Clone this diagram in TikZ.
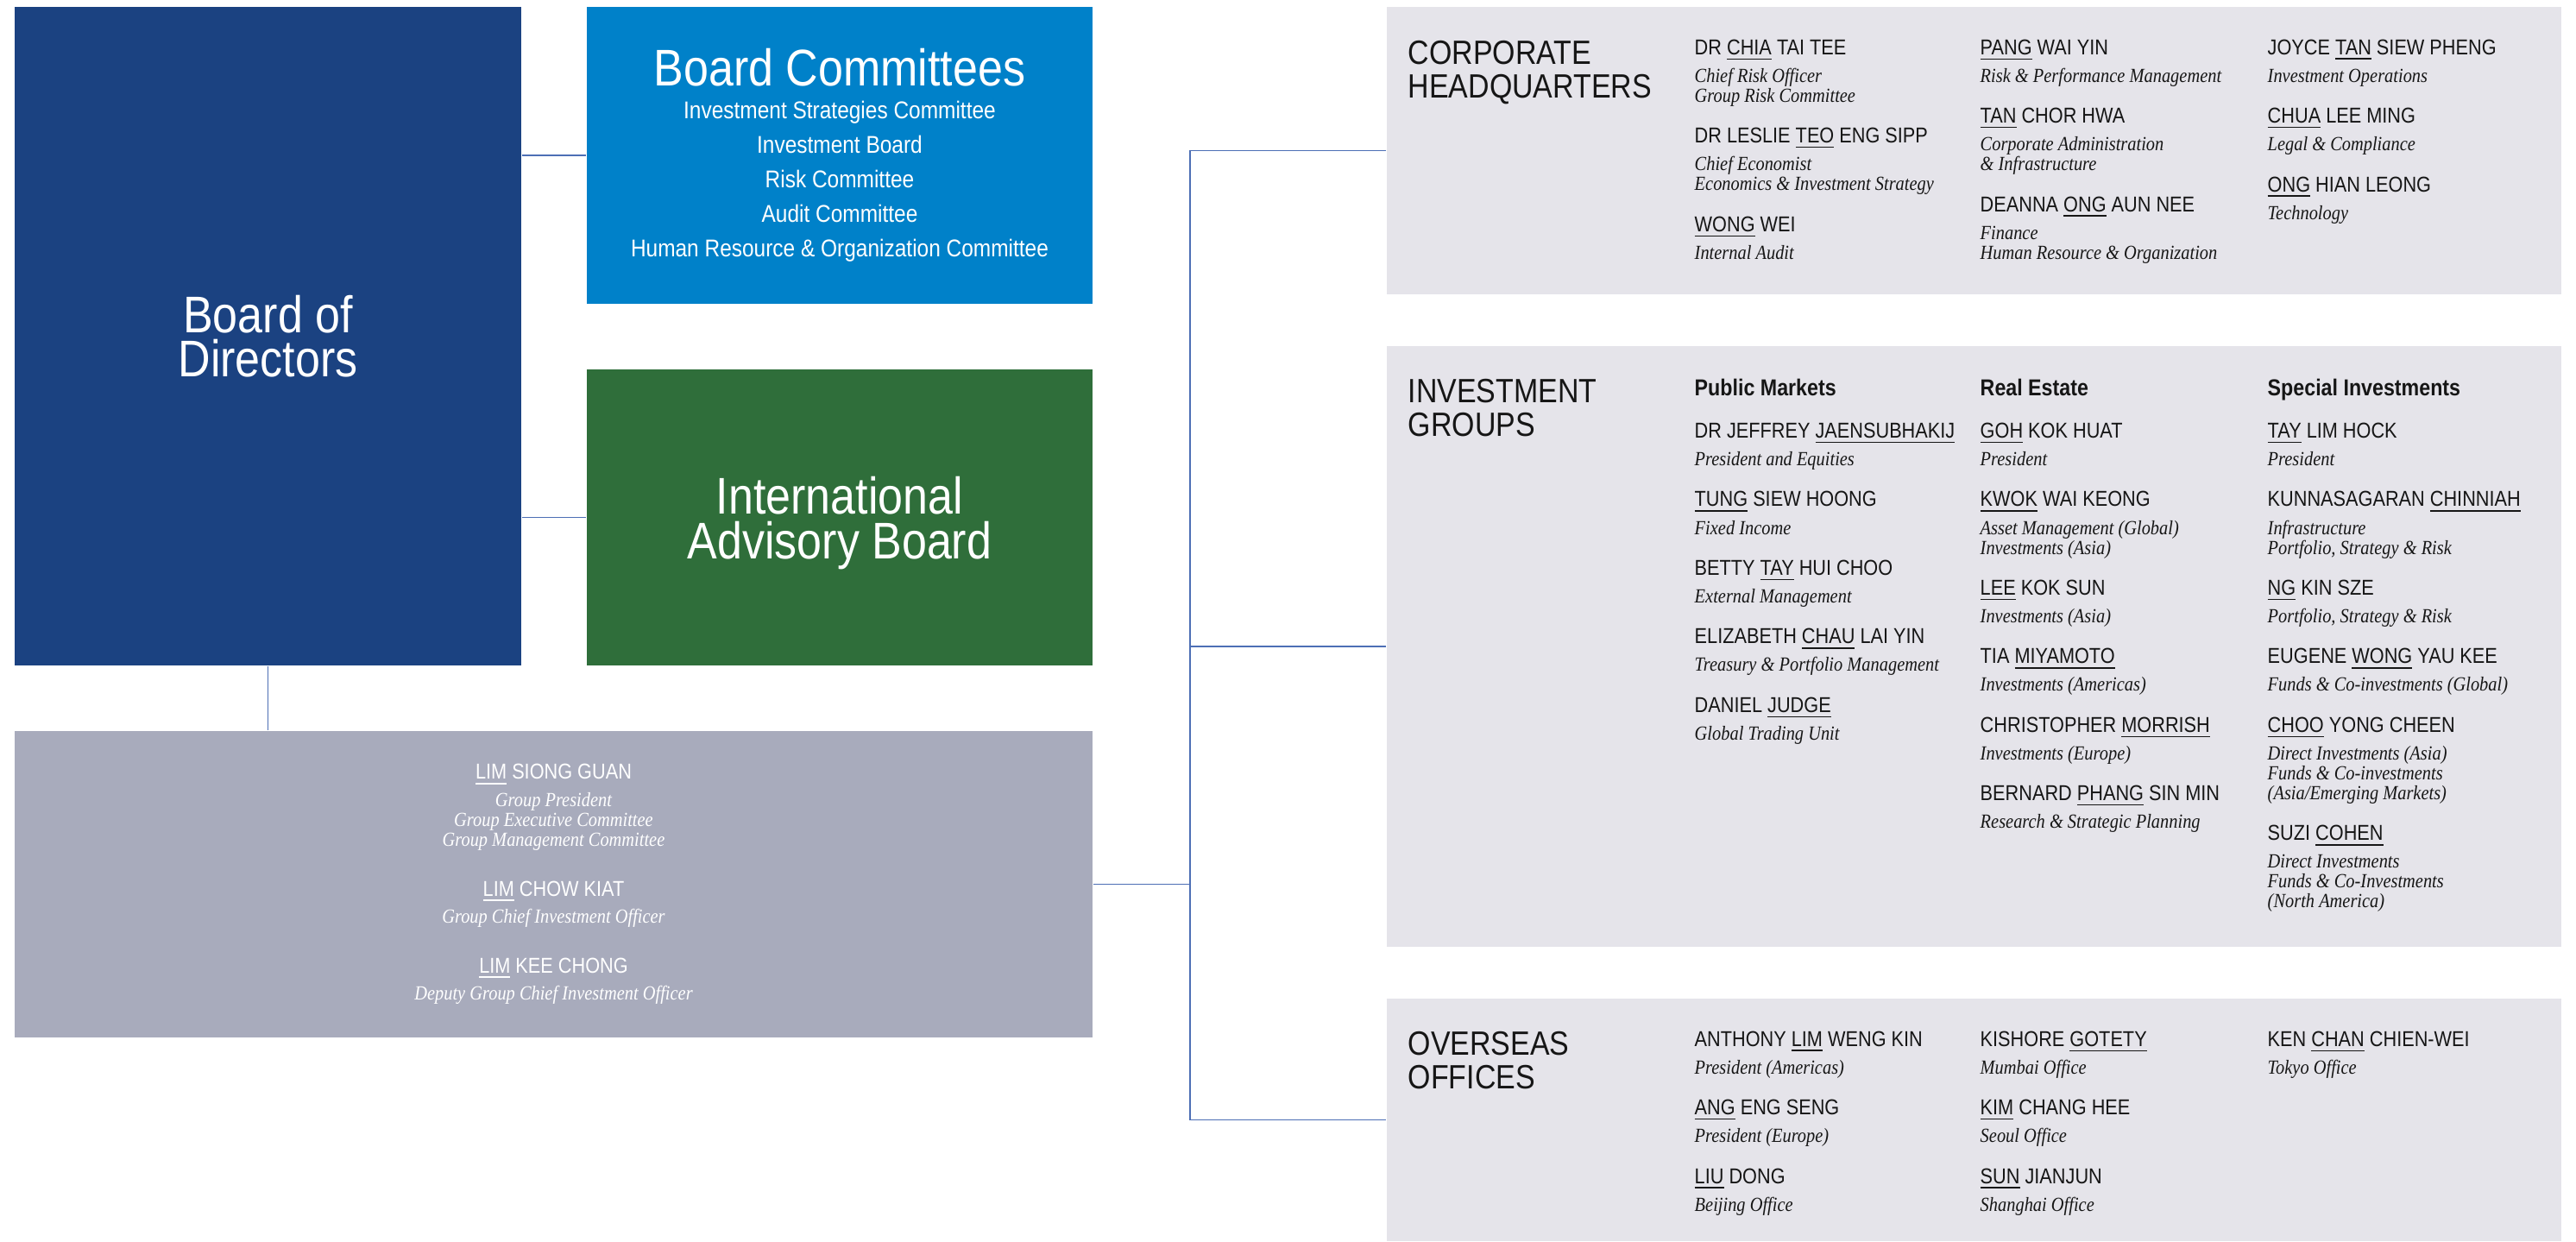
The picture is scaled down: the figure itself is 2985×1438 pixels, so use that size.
\documentclass[tikz,border=0pt]{standalone}
\usepackage{fontspec}
\newfontfamily\gsans[FakeStretch=0.87]{Liberation Sans}
\newfontfamily\gserif[FakeStretch=0.88]{Liberation Serif}
\definecolor{gcNavy}{HTML}{1B4281}
\definecolor{gcBlue}{HTML}{0081C9}
\definecolor{gcGreen}{HTML}{2F6E3A}
\definecolor{gcSlate}{HTML}{A8ABBC}
\definecolor{gcPanel}{HTML}{E5E4EA}
\definecolor{gcLine}{HTML}{4D6FB5}
\definecolor{gcInk}{HTML}{161616}
\newcommand\namefont{\gsans\upshape\fontsize{7.1}{8}\selectfont}
\newcommand\rolefont{\gserif\itshape\fontsize{6.6}{6.55}\selectfont\lineskiplimit=-20pt\relax}
\newcommand\headfont{\gsans\upshape\bfseries\fontsize{7.6}{8}\selectfont}
\newcommand\who[1]{{\namefont #1}}
\newcommand\sname[1]{\underline{#1}}

\begin{document}
\begin{tikzpicture}[x=0.1mm, y=-0.1mm,
    box/.style={inner sep=0pt, align=center, text=white},
    panel/.style={fill=gcPanel, inner sep=0pt, minimum width=136.1mm},
    sect/.style={anchor=north west, inner sep=0pt, align=left, text=gcInk,
      font=\gsans\fontsize{11.1}{11.1}\selectfont},
    col/.style={anchor=north west, inner sep=0pt, align=left, text=gcInk, font=\rolefont},
    link/.style={draw=gcLine, line width=0.5pt}]
  \useasboundingbox (0,0) rectangle (2985,1438);

  \node[box, fill=gcNavy, minimum width=58.7mm, minimum height=76.3mm,
    font=\gsans\fontsize{17}{14.5}\selectfont] (bod) at (310.5,389.5) {Board of\\Directors};
  \node[box, fill=gcBlue, minimum width=58.6mm, minimum height=34.4mm,
    font=\gsans\fontsize{8}{11.38}\selectfont] (bc) at (973,180) {
    {\fontsize{17}{17}\selectfont Board Committees}\\[-0.6pt]
    Investment Strategies Committee\\
    Investment Board\\
    Risk Committee\\
    Audit Committee\\
    Human Resource \& Organization Committee};
  \node[box, fill=gcGreen, minimum width=58.6mm, minimum height=34.3mm, text depth=0pt,
    font=\gsans\fontsize{17}{14.7}\selectfont] (iab) at (973,599.5) {International\\Advisory Board};
  \node[box, fill=gcSlate, minimum width=124.9mm, minimum height=35.5mm,
    font=\rolefont] (mgmt) at (641.5,1024.5) {
    \who{\sname{LIM} SIONG GUAN}\\[2.35pt]
    Group President\\
    Group Executive Committee\\
    Group Management Committee\\[9.9pt]
    \who{\sname{LIM} CHOW KIAT}\\[2.35pt]
    Group Chief Investment Officer\\[9.9pt]
    \who{\sname{LIM} KEE CHONG}\\[2.35pt]
    Deputy Group Chief Investment Officer};

  \node[panel, minimum height=33.3mm] (chq) at (2287.5,174.5) {};
  \node[panel, minimum height=69.6mm] (ig) at (2287.5,749) {};
  \node[panel, minimum height=28.1mm] (oo) at (2287.5,1297.5) {};

  \coordinate (trunk) at (1379,0);
  \draw[link] (bod.east |- bc.west) -- (bc.west);
  \draw[link] (bod.east |- iab.west) -- (iab.west);
  \draw[link] (bod.south) -- (mgmt.north -| bod.south);
  \draw[link] (mgmt.east) -- (mgmt.east -| trunk);
  \draw[link] (chq.west) -- (chq.west -| trunk) -- (oo.west -| trunk) -- (oo.west);
  \draw[link] (ig.west) -- (ig.west -| trunk);

  \node[sect] (chqtitle) at (1631,47) {CORPORATE\\HEADQUARTERS};
  \node[col] (chq1) at (1963,45) {
    \who{DR \sname{CHIA} TAI TEE}\\[2.6pt]
    Chief Risk Officer\\
    Group Risk Committee\\[6.9pt]
    \who{DR LESLIE \sname{TEO} ENG SIPP}\\[2.6pt]
    Chief Economist\\
    Economics \& Investment Strategy\\[6.9pt]
    \who{\sname{WONG} WEI}\\[2.6pt]
    Internal Audit};
  \node[col] (chq2) at (2294,45) {
    \who{\sname{PANG} WAI YIN}\\[2.6pt]
    Risk \& Performance Management\\[6.9pt]
    \who{\sname{TAN} CHOR HWA}\\[2.6pt]
    Corporate Administration\\
    \& Infrastructure\\[6.9pt]
    \who{DEANNA \sname{ONG} AUN NEE}\\[2.6pt]
    Finance\\
    Human Resource \& Organization};
  \node[col] (chq3) at (2627,45) {
    \who{JOYCE \sname{TAN} SIEW PHENG}\\[2.6pt]
    Investment Operations\\[6.9pt]
    \who{\sname{CHUA} LEE MING}\\[2.6pt]
    Legal \& Compliance\\[6.9pt]
    \who{\sname{ONG} HIAN LEONG}\\[2.6pt]
    Technology};

  \node[sect] (igtitle) at (1631,439) {INVESTMENT\\GROUPS};
  \node[col] (ig1) at (1963,438) {
    {\headfont Public Markets}\\[7.5pt]
    \who{DR JEFFREY \sname{JAENSUBHAKIJ}}\\[2.6pt]
    President and Equities\\[6.9pt]
    \who{\sname{TUNG} SIEW HOONG}\\[2.6pt]
    Fixed Income\\[6.9pt]
    \who{BETTY \sname{TAY} HUI CHOO}\\[2.6pt]
    External Management\\[6.9pt]
    \who{ELIZABETH \sname{CHAU} LAI YIN}\\[2.6pt]
    Treasury \& Portfolio Management\\[6.9pt]
    \who{DANIEL \sname{JUDGE}}\\[2.6pt]
    Global Trading Unit};
  \node[col] (ig2) at (2294,438) {
    {\headfont Real Estate}\\[7.5pt]
    \who{\sname{GOH} KOK HUAT}\\[2.6pt]
    President\\[6.9pt]
    \who{\sname{KWOK} WAI KEONG}\\[2.6pt]
    Asset Management (Global)\\
    Investments (Asia)\\[6.9pt]
    \who{\sname{LEE} KOK SUN}\\[2.6pt]
    Investments (Asia)\\[6.9pt]
    \who{TIA \sname{MIYAMOTO}}\\[2.6pt]
    Investments (Americas)\\[6.9pt]
    \who{CHRISTOPHER \sname{MORRISH}}\\[2.6pt]
    Investments (Europe)\\[6.9pt]
    \who{BERNARD \sname{PHANG} SIN MIN}\\[2.6pt]
    Research \& Strategic Planning};
  \node[col] (ig3) at (2627,438) {
    {\headfont Special Investments}\\[7.5pt]
    \who{\sname{TAY} LIM HOCK}\\[2.6pt]
    President\\[6.9pt]
    \who{KUNNASAGARAN \sname{CHINNIAH}}\\[2.6pt]
    Infrastructure\\
    Portfolio, Strategy \& Risk\\[6.9pt]
    \who{\sname{NG} KIN SZE}\\[2.6pt]
    Portfolio, Strategy \& Risk\\[6.9pt]
    \who{EUGENE \sname{WONG} YAU KEE}\\[2.6pt]
    Funds \& Co-investments (Global)\\[6.9pt]
    \who{\sname{CHOO} YONG CHEEN}\\[2.6pt]
    Direct Investments (Asia)\\
    Funds \& Co-investments\\
    (Asia/Emerging Markets)\\[6.9pt]
    \who{SUZI \sname{COHEN}}\\[2.6pt]
    Direct Investments\\
    Funds \& Co-Investments\\
    (North America)};

  \node[sect] (ootitle) at (1631,1195) {OVERSEAS\\OFFICES};
  \node[col] (oo1) at (1963,1194) {
    \who{ANTHONY \sname{LIM} WENG KIN}\\[2.6pt]
    President (Americas)\\[6.9pt]
    \who{\sname{ANG} ENG SENG}\\[2.6pt]
    President (Europe)\\[6.9pt]
    \who{\sname{LIU} DONG}\\[2.6pt]
    Beijing Office};
  \node[col] (oo2) at (2294,1194) {
    \who{KISHORE \sname{GOTETY}}\\[2.6pt]
    Mumbai Office\\[6.9pt]
    \who{\sname{KIM} CHANG HEE}\\[2.6pt]
    Seoul Office\\[6.9pt]
    \who{\sname{SUN} JIANJUN}\\[2.6pt]
    Shanghai Office};
  \node[col] (oo3) at (2627,1194) {
    \who{KEN \sname{CHAN} CHIEN-WEI}\\[2.6pt]
    Tokyo Office};
\end{tikzpicture}
\end{document}
